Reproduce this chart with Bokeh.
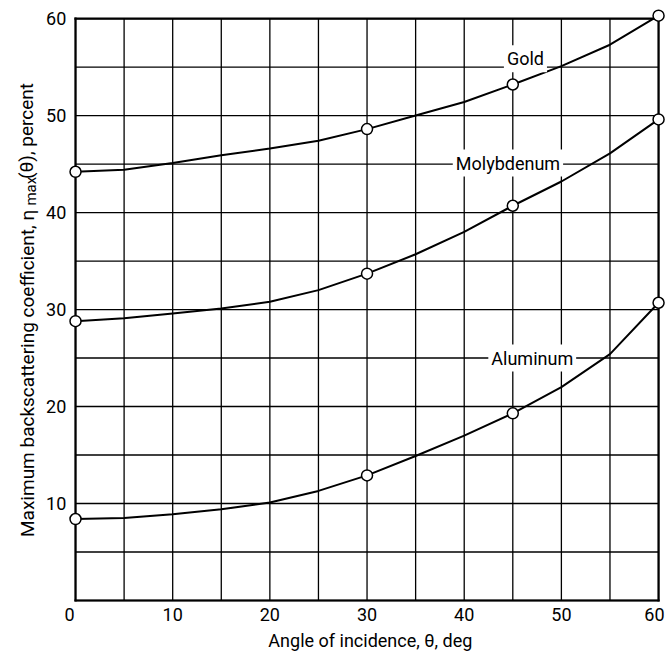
from bokeh.plotting import figure
from bokeh.models import Label, Range1d
from bokeh.core.properties import value
from bokeh.embed import file_html
from bokeh.resources import INLINE

# ---- data ----
angles = [0, 30, 45, 60]
gold = [44.2, 48.6, 53.2, 60.3]
molybdenum = [28.8, 33.7, 40.7, 49.6]
aluminum = [8.4, 12.9, 19.3, 30.7]

curve_angles = [0, 5, 10, 15, 20, 25, 30, 35, 40, 45, 50, 55, 60]
gold_curve = [44.2, 44.4, 45.1, 45.9, 46.6, 47.4, 48.6, 50.0, 51.4, 53.2, 55.1, 57.3, 60.3]
molybdenum_curve = [28.8, 29.1, 29.6, 30.1, 30.8, 32.0, 33.7, 35.7, 38.0, 40.7, 43.2, 46.1, 49.6]
aluminum_curve = [8.4, 8.5, 8.9, 9.4, 10.1, 11.3, 12.9, 14.9, 17.0, 19.3, 22.0, 25.4, 30.7]

x_ticks = [0, 10, 20, 30, 40, 50, 60]
x_tick_labels = ["0", "10", "20", "30", "40", "50", "60"]
y_ticks = [10, 20, 30, 40, 50, 60]
y_tick_labels = ["10", "20", "30", "40", "50", "60"]
grid_steps = [0, 5, 10, 15, 20, 25, 30, 35, 40, 45, 50, 55, 60]
box_edges = [0, 60]
x_min, x_max = 0, 60
y_min, y_max = 0, 60

FONT = "Roboto"

# The frame covers the whole canvas so that every text (drawn in data space) stays visible.
p = figure(width=667, height=652, output_backend="svg", toolbar_location=None,
           x_range=Range1d(-7.72, 60.92), y_range=Range1d(-5.36, 61.86),
           min_border_left=0, min_border_right=0, min_border_top=0, min_border_bottom=0)
p.outline_line_color = None
p.background_fill_color = "white"
p.axis.visible = False
p.grid.visible = False

# grid lines every 5 inside the 0..60 box
n = len(grid_steps)
p.segment(x0=grid_steps, y0=[y_min] * n, x1=grid_steps, y1=[y_max] * n,
          line_color="black", line_width=1.3)
p.segment(x0=[x_min] * n, y0=grid_steps, x1=[x_max] * n, y1=grid_steps,
          line_color="black", line_width=1.3)
# heavier box edges
p.segment(x0=box_edges, y0=[y_min] * 2, x1=box_edges, y1=[y_max] * 2,
          line_color="black", line_width=2.2, line_cap="square")
p.segment(x0=[x_min] * 2, y0=box_edges, x1=[x_max] * 2, y1=box_edges,
          line_color="black", line_width=2.2, line_cap="square")

# tick labels (end labels nudged inwards like the reference)
x_align = ["right"] + ["center"] * (len(x_ticks) - 2) + ["right"]
x_shift = [-1] + [0] * (len(x_ticks) - 2) + [6]
p.text(x=x_ticks, y=[-0.75] * len(x_ticks), text=x_tick_labels,
       text_align=x_align, x_offset=x_shift, text_baseline="top", text_font=value(FONT),
       text_font_size="18px", text_color="black")
p.text(x=[-0.95] * len(y_ticks), y=y_ticks, text=y_tick_labels,
       text_align="right", text_baseline="middle", text_font=value(FONT),
       text_font_size="18px", text_color="black")

# curves
for ys in (gold_curve, molybdenum_curve, aluminum_curve):
    p.line(curve_angles, ys, line_color="black", line_width=2)
for ys in (gold, molybdenum, aluminum):
    p.scatter(angles, ys, marker="circle", size=11, fill_color="white",
              line_color="black", line_width=1.5)

# curve labels
for txt, lx, ly in (("Gold", 46.3, 55.85), ("Molybdenum", 44.5, 45.1), ("Aluminum", 47.0, 25.0)):
    p.add_layout(Label(x=lx, y=ly, text=txt, text_align="center", text_baseline="middle",
                       text_font=FONT, text_font_size="18px", text_color="black",
                       background_fill_color="white", padding=3))

# x axis title
p.add_layout(Label(x=30.8, y=-4.12, text="Angle of incidence,  \u03b8,  deg",
                   text_align="center", text_baseline="alphabetic",
                   text_font=FONT, text_font_size="18px", text_color="black"))

# y axis title with subscript
p.add_layout(Label(x=-4.94, y=40.77, angle=90, angle_units="deg",
                   text="Maximum backscattering coefficient,  \u03b7",
                   text_align="right", text_baseline="alphabetic",
                   text_font=FONT, text_font_size="19px", text_color="black"))
p.add_layout(Label(x=-4.58, y=40.72, angle=90, angle_units="deg",
                   text="max", text_align="left", text_baseline="alphabetic",
                   text_font=FONT, text_font_size="15px", text_color="black"))
p.add_layout(Label(x=-5.04, y=43.45, angle=90, angle_units="deg",
                   text="(\u03b8),  percent", text_align="left", text_baseline="alphabetic",
                   text_font=FONT, text_font_size="19px", text_color="black"))

open("out.html", "w").write(file_html(p, INLINE))
